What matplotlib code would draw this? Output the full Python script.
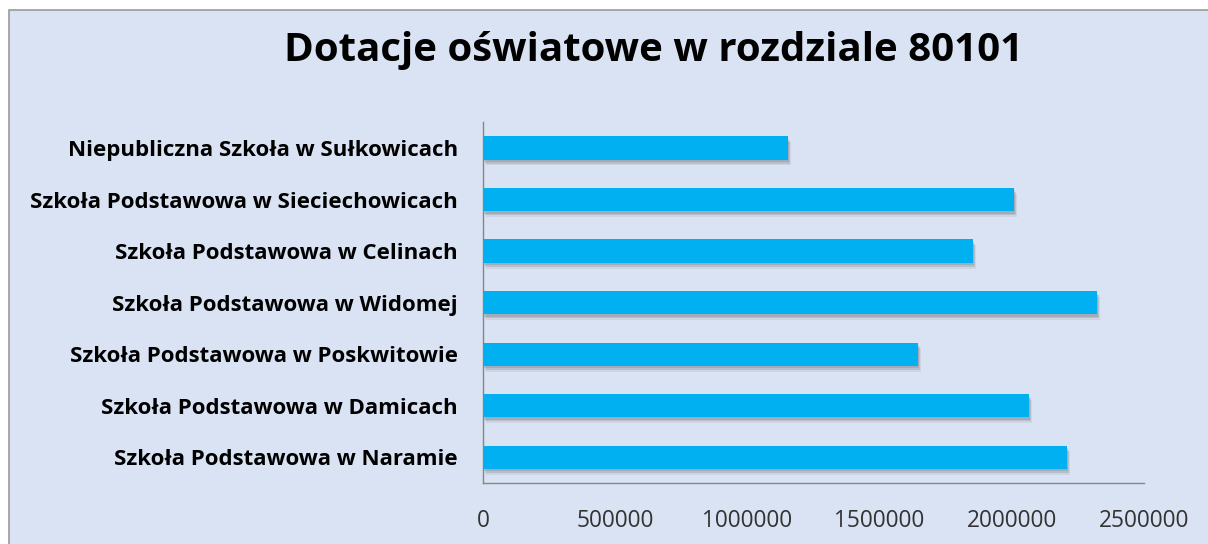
import matplotlib
matplotlib.use("Agg")
import matplotlib.pyplot as plt
import matplotlib.patheffects as pe
from matplotlib.patches import Rectangle

categories = [
    "Niepubliczna Szkoła w Sułkowicach",
    "Szkoła Podstawowa w Sieciechowicach",
    "Szkoła Podstawowa w Celinach",
    "Szkoła Podstawowa w Widomej",
    "Szkoła Podstawowa w Poskwitowie",
    "Szkoła Podstawowa w Damicach",
    "Szkoła Podstawowa w Naramie",
]
values = [1155000, 2007000, 1852000, 2322000, 1646000, 2065000, 2210000]
xticks = [0, 500000, 1000000, 1500000, 2000000, 2500000]
title = "Dotacje oświatowe w rozdziale 80101"

plt.rcParams['font.family'] = ['Open Sans', 'DejaVu Sans']

W, H = 1208, 544
fig = plt.figure(figsize=(W / 100, H / 100), dpi=100, facecolor="white")

bg = Rectangle((9 / W, -0.01), 1.02, 1 - 10 / H + 0.01, transform=fig.transFigure,
               facecolor="#DAE3F3", edgecolor="#9A9A9A", linewidth=1.2, zorder=-10)
fig.patches.append(bg)

ax = fig.add_axes([483 / W, 1 - 483 / H, (1144 - 483) / W, (483 - 122.25) / H])
ax.set_facecolor("none")

ypos = list(range(len(categories)))
shadow = [
    pe.SimplePatchShadow(offset=(0.8, -1.8), shadow_rgbFace="#000000", alpha=0.10),
    pe.SimplePatchShadow(offset=(1.5, -3.0), shadow_rgbFace="#000000", alpha=0.10),
    pe.SimplePatchShadow(offset=(2.2, -4.2), shadow_rgbFace="#000000", alpha=0.06),
    pe.Normal(),
]
bars = ax.barh(ypos, values, height=0.45, color="#00B0F0", zorder=3)
for b in bars:
    b.set_path_effects(shadow)

ax.set_ylim(len(categories) - 0.5, -0.5)
ax.set_xlim(0, 2500000)
ax.set_yticks(ypos)
ax.set_yticklabels(categories, fontsize=16, fontweight="bold", color="black")
ax.set_xticks(xticks)
ax.set_xticklabels([str(v) for v in xticks], fontsize=16.3, color="#333333")
ax.tick_params(axis="y", length=0, pad=18)
ax.tick_params(axis="x", length=0, pad=19)

for s in ["top", "right"]:
    ax.spines[s].set_visible(False)
for s in ["left", "bottom"]:
    ax.spines[s].set_color("#868686")
    ax.spines[s].set_linewidth(1.0)

fig.text(654 / W, 1 - 51 / H, title, ha="center", va="center",
         fontsize=29, fontweight="bold", color="black")

fig.savefig("out.png", dpi=100, facecolor="white")
